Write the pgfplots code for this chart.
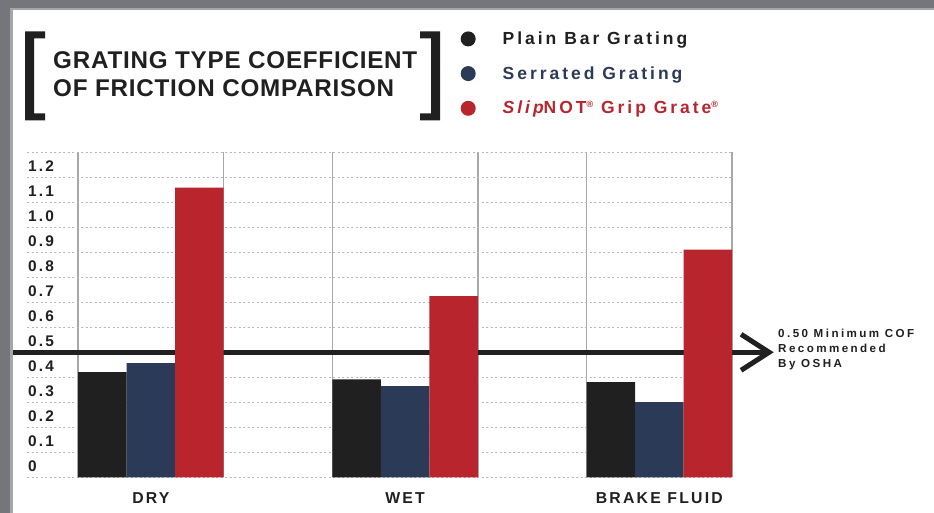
\documentclass[border=0pt]{standalone}
\usepackage{pgfplots}
\pgfplotsset{compat=1.18}
\usepackage{pgfplotstable}
\usetikzlibrary{arrows.meta}
\usepackage{fontspec}
\setmainfont{Liberation Sans}
\newfontfamily\titlefont[LetterSpace=3.2]{Liberation Sans}
\newfontfamily\tickfont[LetterSpace=14]{Liberation Sans}
\newfontfamily\legfont[LetterSpace=17]{Liberation Sans}
\newfontfamily\notefont[LetterSpace=21]{Liberation Sans}
\definecolor{cblack}{HTML}{202020}
\definecolor{cblue}{HTML}{2B3A56}
\definecolor{cred}{HTML}{B9252D}
\definecolor{frame}{HTML}{75767B}
\definecolor{framel}{HTML}{A5A6AA}
\definecolor{gridc}{HTML}{B8B8B8}
\definecolor{vgrid}{HTML}{A8A8A8}

\pgfplotstableread{
x plain serrated slipnot
0 0.421 0.457 1.159
1 0.392 0.365 0.725
2 0.381 0.301 0.911
}\cof

\newcommand{\reg}{\raisebox{6.5pt}{\fontsize{9}{9}\selectfont ®}}

\begin{document}
\begin{tikzpicture}[x=1pt,y=1pt]
\fill[white] (0,0) rectangle (934,513);
\useasboundingbox (0,0) rectangle (934,513);
\fill[framel] (0,0) rectangle (12.5,513);
\fill[framel] (0,503) rectangle (934,513);
\fill[frame] (0,0) rectangle (10,513);
\fill[frame] (0,505) rectangle (934,513);
% brackets
\fill[cblack] (25,481.5) -- (45,481.5) -- (45,474.5) -- (34,474.5) -- (34,399.5) -- (45,399.5) -- (45,392.5) -- (25,392.5) -- cycle;
\fill[cblack] (440,481.5) -- (420,481.5) -- (420,474.5) -- (431,474.5) -- (431,399.5) -- (420,399.5) -- (420,392.5) -- (440,392.5) -- cycle;
\node[anchor=base west, inner sep=0pt, text=cblack, font=\titlefont\bfseries\fontsize{24.2}{28}\selectfont] at (53,444) {GRATING TYPE COEFFICIENT};
\node[anchor=base west, inner sep=0pt, text=cblack, font=\titlefont\bfseries\fontsize{24.2}{28}\selectfont] at (53,416) {OF FRICTION COMPARISON};
\node[anchor=north west, inner sep=0pt, align=left, text=cblack, font=\notefont\bfseries\fontsize{11.6}{15.3}\selectfont] at (778,184.5) {0.50 Minimum COF\\Recommended\\By OSHA};
\begin{axis}[
  at={(27pt,35.7pt)}, anchor=south west,
  scale only axis, width=705pt, height=325pt,
  xmin=-0.4872, xmax=2.2859, ymin=0, ymax=1.3,
  clip=false,
  axis line style={draw=none},
  major tick length=0pt, minor tick length=0pt,
  tick style={draw=none},
  xtick={0,1,2}, xticklabels={DRY,WET,BRAKE FLUID},
  minor xtick={-0.2859,0.2859,0.7141,1.2859,1.7141,2.2859},
  xminorgrids,
  minor x grid style={vgrid, line width=1.5pt},
  ytick={0,0.1,0.2,0.3,0.4,0.5,0.6,0.7,0.8,0.9,1.0,1.1,1.2,1.3},
  yticklabels={0,0.1,0.2,0.3,0.4,0.5,0.6,0.7,0.8,0.9,1.0,1.1,1.2,{}},
  ymajorgrids,
  major y grid style={gridc, line width=1.3pt, dash pattern=on 2pt off 2.5pt},
  /pgf/number format/assume math mode=true,
  yticklabel style={anchor=base west, inner sep=0pt, xshift=1pt, yshift=6pt, text=cblack, font=\tickfont\bfseries\fontsize{15.4}{18}\selectfont},
  xticklabel style={anchor=base, inner sep=0pt, yshift=-26pt, text=cblack, font=\tickfont\bfseries\fontsize{15.8}{18}\selectfont},
  legend style={at={(axis description cs:0.6149,1.3775)}, anchor=north west, draw=none, fill=none, inner sep=0pt, row sep=16.5pt,
    font=\legfont\bfseries\fontsize{17.5}{20}\selectfont,
    /tikz/every odd column/.append style={column sep=25pt}},
  legend cell align=left,
  legend image code/.code={\fill (7.5pt,0pt) circle (7.5pt);},
]
\addplot[forget plot, line width=5pt, color=cblack, -{Straight Barb[length=28pt,width=36pt]}] coordinates {(-0.5422,0.5) (2.45,0.5)};
\addplot[ybar, bar width=0.1906, bar shift=-0.1906, fill=cblack, draw=none] table[x=x,y=plain]{\cof};
\addlegendentry[text=cblack]{Plain Bar Grating}
\addplot[ybar, bar width=0.1906, bar shift=0, fill=cblue, draw=none] table[x=x,y=serrated]{\cof};
\addlegendentry[text=cblue]{Serrated Grating}
\addplot[ybar, bar width=0.1906, bar shift=0.1906, fill=cred, draw=none] table[x=x,y=slipnot]{\cof};
\addlegendentry[text=cred]{{\itshape Slip}NOT\reg{} Grip Grate\reg}
\end{axis}
\end{tikzpicture}
\end{document}
